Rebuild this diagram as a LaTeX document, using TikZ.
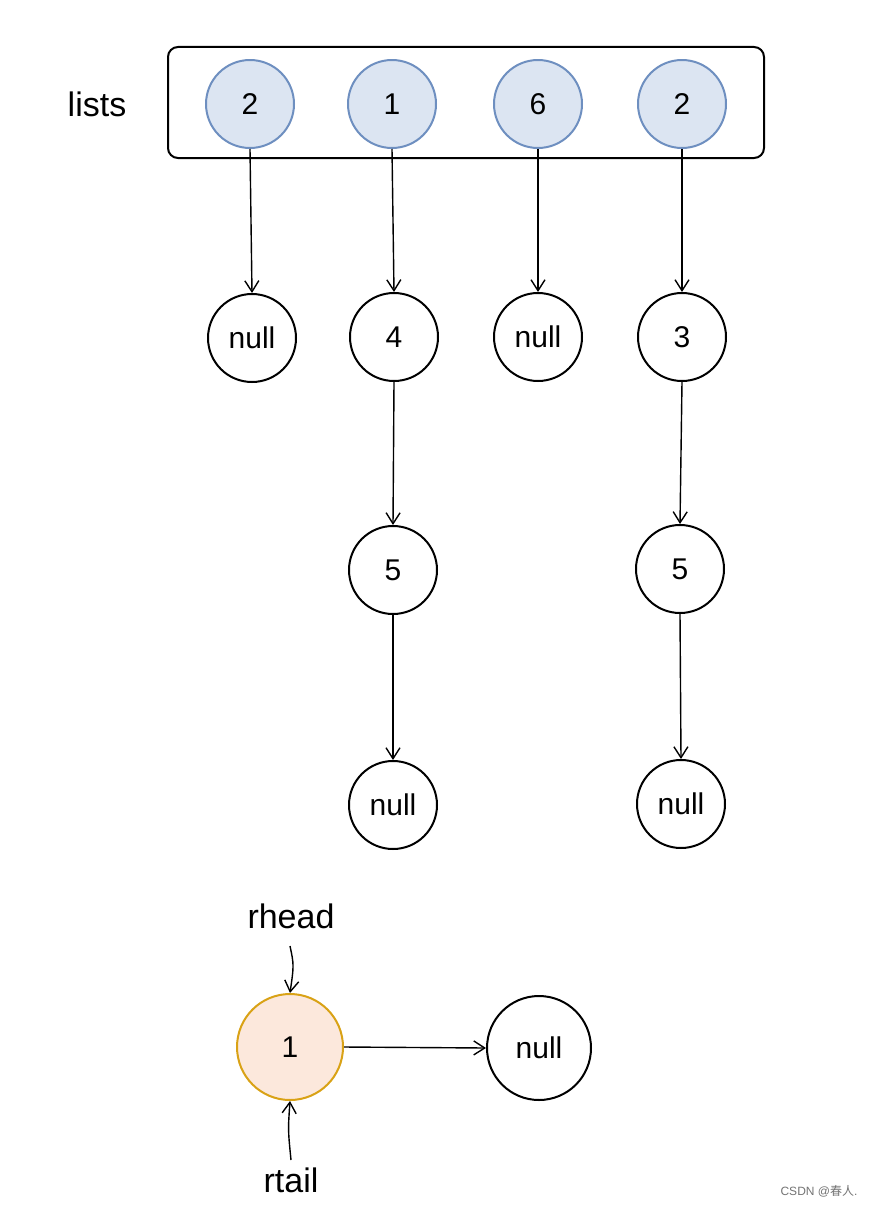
\documentclass[tikz,border=0pt]{standalone}
\usepackage{fontspec}
\setmainfont{Liberation Sans}
\newfontfamily\cjkfont{Noto Sans CJK SC}
\usetikzlibrary{arrows.meta,patterns}
\definecolor{blueline}{HTML}{6E8FC0}
\definecolor{bluefill}{HTML}{DCE5F2}
\definecolor{orline}{HTML}{D9A216}
\definecolor{orfill}{HTML}{FCE8DC}
\tikzset{
  sk/.style={line width=2pt, line cap=round, line join=round},
  cnode/.style={sk, circle, draw=black, minimum size=88pt, inner sep=0pt, font=\fontsize{30}{33}\selectfont},
  bnode/.style={cnode, draw=blueline, fill=bluefill},
  onode/.style={cnode, draw=orline, fill=orfill, minimum size=106pt},
  wnode/.style={cnode, minimum size=104pt},
  lbl/.style={font=\fontsize{34}{38}\selectfont, inner sep=0pt},
  arr/.style={line width=1.4pt, -{Straight Barb[length=11pt,width=14pt,line width=1.4pt]}},
}
\begin{document}
\begin{tikzpicture}[x=1pt,y=-1pt]
\useasboundingbox (0,0) rectangle (875,1207);
% array box
\node[sk, draw, rounded corners=10pt, minimum width=596pt, minimum height=111pt, inner sep=0pt] (box) at (466,102.5) {};
\node[lbl] (lists) at (97,104) {lists};
% top row
\node[bnode] (a1) at (250,104) {2};
\node[bnode] (a2) at (392,104) {1};
\node[bnode] (a3) at (538,104) {6};
\node[bnode] (a4) at (682,104) {2};
% second row
\node[cnode] (n1) at (252,338) {null};
\node[cnode] (b1) at (394,337) {4};
\node[cnode] (n3) at (538,337) {null};
\node[cnode] (d1) at (682,337) {3};
% third row
\node[cnode] (b2) at (393,570) {5};
\node[cnode] (d2) at (680,569) {5};
% fourth row
\node[cnode] (n2) at (393,805) {null};
\node[cnode] (n4) at (681,804) {null};
% arrows
\draw[arr] (a1.south) -- (n1.north);
\draw[arr] (a2.south) -- (b1.north);
\draw[arr] (a3.south) -- (n3.north);
\draw[arr] (a4.south) -- (d1.north);
\draw[arr] (b1.south) -- (b2.north);
\draw[arr] (d1.south) -- (d2.north);
\draw[arr] (b2.south) -- (n2.north);
\draw[arr] (d2.south) -- (n4.north);
% bottom
\node[onode] (r1) at (290,1047) {1};
\node[wnode] (rn) at (539,1048) {null};
\node[lbl] (rhead) at (291,916) {rhead};
\node[lbl] (rtail) at (291,1180) {rtail};
\coordinate (hs) at (290,946);
\coordinate (ts) at (291,1160);
\draw[arr] (hs) .. controls (294,965) .. (r1.north);
\draw[arr] (ts) .. controls (288,1130) .. (r1.south);
\draw[arr] (r1.east) -- (rn.west);
% watermark
\node[font=\fontsize{12}{14}\selectfont, text=black!55] (wm) at (819,1191) {CSDN @{\cjkfont 春人}.};
\end{tikzpicture}
\end{document}
